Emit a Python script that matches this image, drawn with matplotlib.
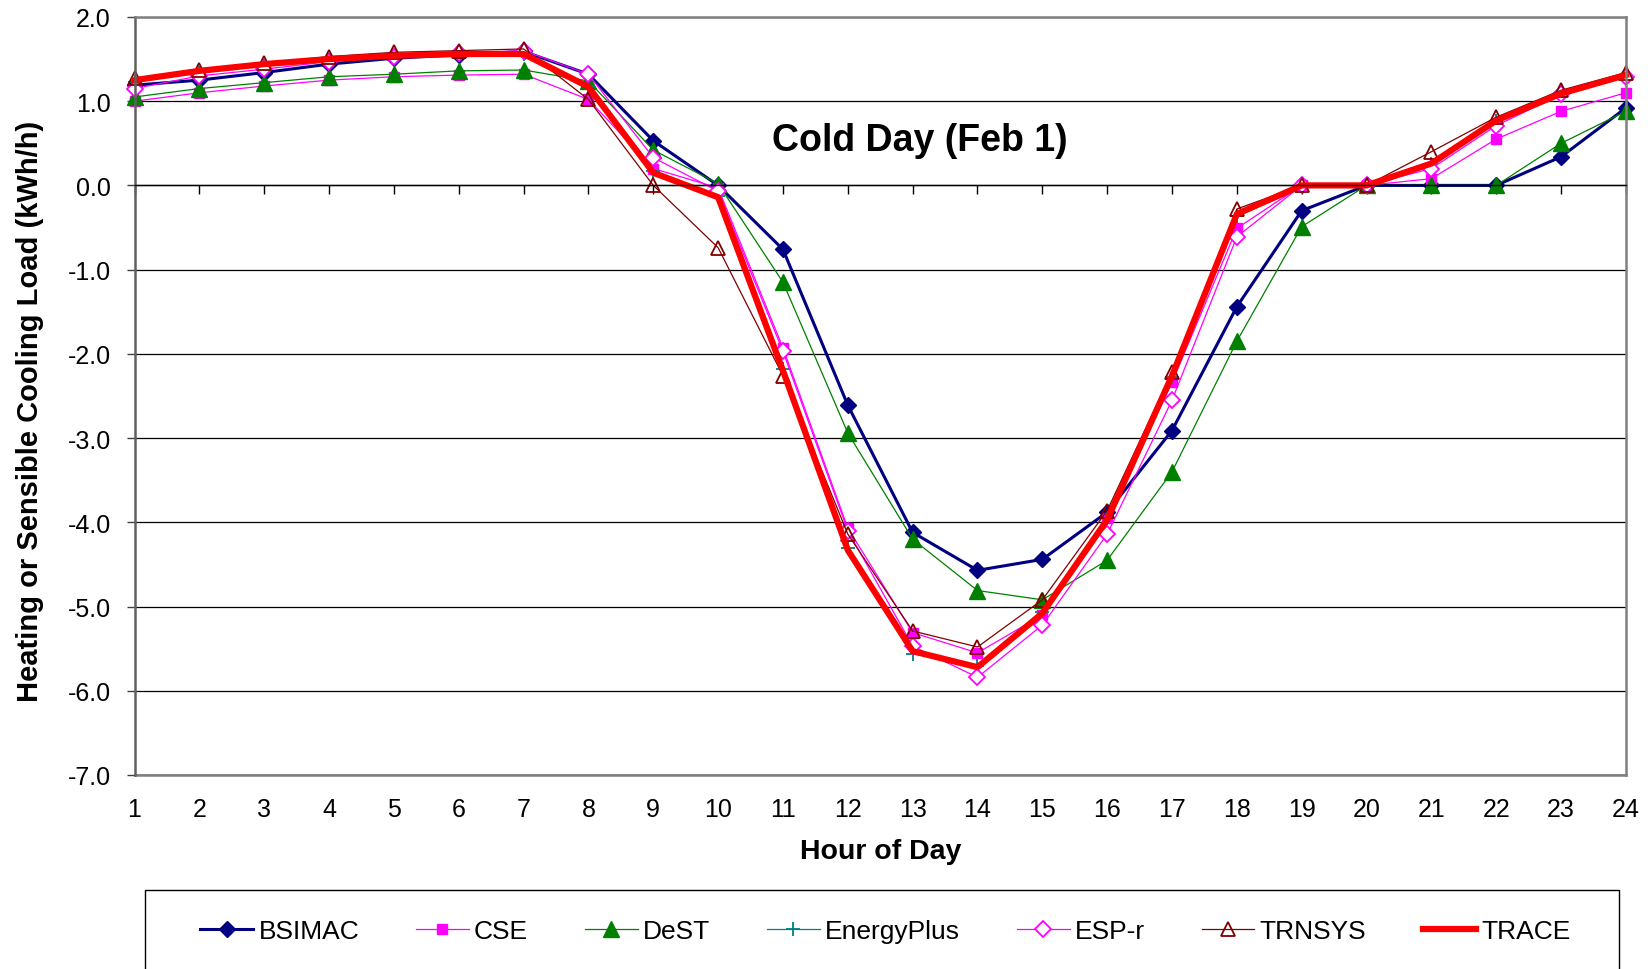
import matplotlib
matplotlib.use("Agg")
import matplotlib.pyplot as plt
from matplotlib.patches import Rectangle
from matplotlib.ticker import FormatStrFormatter, MultipleLocator

plt.rcParams["font.family"] = ["Liberation Sans", "DejaVu Sans"]
plt.rcParams["axes.unicode_minus"] = False

# hourly loads (kWh/h)
hours = list(range(1, 25))
bsimac = [1.19, 1.25, 1.34, 1.44, 1.51, 1.55, 1.59, 1.32, 0.53, 0.00, -0.76, -2.61,
          -4.12, -4.57, -4.44, -3.88, -2.91, -1.44, -0.30, 0.00, 0.00, 0.00, 0.34, 0.92]
cse = [1.00, 1.10, 1.18, 1.25, 1.29, 1.31, 1.32, 1.02, 0.20, -0.03, -1.93, -4.07,
       -5.31, -5.55, -5.10, -3.95, -2.34, -0.51, 0.00, 0.00, 0.08, 0.55, 0.88, 1.10]
dest = [1.05, 1.15, 1.22, 1.29, 1.32, 1.36, 1.37, 1.24, 0.42, 0.02, -1.15, -2.94,
        -4.20, -4.81, -4.92, -4.45, -3.40, -1.85, -0.49, 0.00, 0.00, 0.00, 0.50, 0.88]
energyplus = [1.23, 1.34, 1.42, 1.49, 1.53, 1.55, 1.56, 1.18, 0.17, -0.12, -2.18, -4.30,
              -5.56, -5.70, -5.07, -3.95, -2.27, -0.36, 0.00, 0.00, 0.26, 0.76, 1.08, 1.30]
espr = [1.15, 1.30, 1.38, 1.47, 1.53, 1.57, 1.60, 1.32, 0.33, -0.07, -1.97, -4.10,
        -5.47, -5.84, -5.22, -4.14, -2.55, -0.61, 0.00, 0.00, 0.20, 0.71, 1.08, 1.29]
trnsys = [1.27, 1.37, 1.45, 1.53, 1.58, 1.60, 1.62, 1.02, 0.00, -0.74, -2.26, -4.14,
          -5.29, -5.48, -4.92, -3.86, -2.22, -0.28, 0.00, 0.00, 0.40, 0.81, 1.13, 1.34]
trace = [1.25, 1.36, 1.44, 1.50, 1.54, 1.56, 1.56, 1.17, 0.15, -0.14, -2.20, -4.33,
         -5.53, -5.72, -5.08, -3.97, -2.26, -0.34, 0.00, 0.00, 0.26, 0.77, 1.09, 1.31]

fig = plt.figure(figsize=(16.49, 9.70), dpi=100)
ax = fig.add_axes([0.0816, 0.2, 0.9044, 0.7815])

ax.plot(hours, bsimac, color="#000080", lw=2.2, marker="D", ms=8.5, label="BSIMAC", clip_on=False)
ax.plot(hours, cse, color="#FF00FF", lw=0.9, marker="s", ms=6.5, label="CSE", clip_on=False)
ax.plot(hours, dest, color="#008000", lw=0.9, marker="^", ms=11.5, label="DeST", clip_on=False)
ax.plot(hours, energyplus, color="#008080", lw=0.9, marker="+", ms=10, mew=1.3,
        label="EnergyPlus", clip_on=False)
ax.plot(hours, espr, color="#FF00FF", lw=0.9, marker="D", ms=8, mfc="white", mew=1.3,
        label="ESP-r", clip_on=False)
ax.plot(hours, trnsys, color="#800000", lw=0.9, marker="^", ms=10.5, mfc="none", mew=1.3,
        label="TRNSYS", clip_on=False)
ax.plot(hours, trace, color="#FF0000", lw=4.5, label="TRACE", clip_on=False)

ax.set_xlim(1, 24)
ax.set_ylim(-7, 2)
ax.yaxis.set_major_locator(MultipleLocator(1))
ax.yaxis.set_major_formatter(FormatStrFormatter("%.1f"))
ax.grid(True, axis="y", color="black", lw=0.9)
ax.set_axisbelow(True)

# category axis crosses at zero, labels sit at the bottom
ax.spines["bottom"].set_position(("data", 0))
ax.spines["bottom"].set_color("black")
ax.spines["bottom"].set_linewidth(1.0)
ax.set_xticks(hours)
ax.tick_params(axis="x", direction="out", length=6.5, width=1, labelbottom=False)
for s in ("top", "right"):
    ax.spines[s].set_color("#808080")
    ax.spines[s].set_linewidth(1.8)
ax.spines["left"].set_color("#606060")
ax.spines["left"].set_linewidth(1.8)
ax.tick_params(axis="y", direction="out", length=6, width=1, color="#404040",
               labelsize=18, pad=11)

sec = ax.secondary_xaxis(0)
sec.set_xticks(hours)
sec.tick_params(length=0, labelsize=18, pad=16)
sec.spines["bottom"].set_color("#808080")
sec.spines["bottom"].set_linewidth(1.8)
sec.set_xlabel("Hour of Day", fontsize=20.5, fontweight="bold", labelpad=12)

ax.set_ylabel("Heating or Sensible Cooling Load (kWh/h)", fontsize=21, fontweight="bold")
ax.yaxis.set_label_coords(-0.061, 0.4815)

ax.text(13.11, 0.54, "Cold Day (Feb 1)", fontsize=27, fontweight="bold",
        ha="center", va="center")

# legend box runs off the bottom edge like in the source
fig.patches.append(Rectangle((0.0879, -0.05), 0.8939, 0.1314, transform=fig.transFigure,
                             fill=False, edgecolor="black", lw=1.0))
fig.legend(loc="center", bbox_to_anchor=(0.537, 0.039), ncol=7, frameon=False,
           fontsize=19, handlelength=2.0, handletextpad=0.2, columnspacing=2.15)

fig.savefig("out.png", dpi=100)
